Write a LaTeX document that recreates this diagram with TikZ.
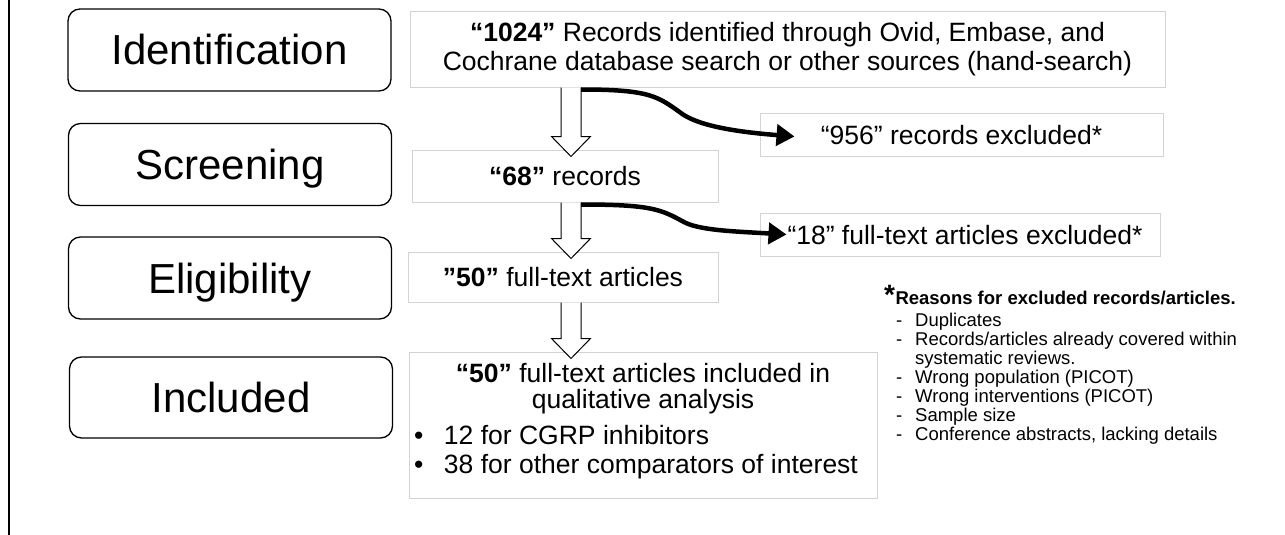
\documentclass[tikz,border=0pt]{standalone}
\usepackage{fontspec}
\setmainfont{Liberation Sans}
\usetikzlibrary{calc,arrows.meta}
\definecolor{boxgray}{HTML}{D3D3D3}

\begin{document}
\begin{tikzpicture}[x=1pt,y=-1pt,
  stage/.style={draw=black, line width=1.3pt, rounded corners=12pt,
    minimum width=323pt, minimum height=82pt, inner sep=0pt,
    text height=30pt, text depth=0pt, font=\fontsize{42}{46}\selectfont},
  tbox/.style={draw=boxgray, line width=1pt, inner sep=0pt, align=center,
    font=\fontsize{26.5}{29}\selectfont},
  oneline/.style={text height=19pt, text depth=0pt},
  hollow/.style={draw=black, line width=1pt, fill=white, line join=miter},
  exclarrow/.style={line width=4.5pt, -{Triangle[length=18pt,width=21pt]}},
  note/.style={inner sep=0pt, anchor=base west, font=\fontsize{18.5}{18.67}\selectfont}
  ]
  \fill[white] (0,0) rectangle (1285,535);
  \useasboundingbox (0,0) rectangle (1285,535);

  % left rule
  \draw[line width=2.5pt] (9,0) -- (9,535);

  % stage labels
  \node[stage] (id)  at (229.5,50)  {Identification};
  \node[stage] (scr) at (230,164.5) {Screening};
  \node[stage] (eli) at (230,278)   {Eligibility};
  \node[stage, minimum height=81pt] (inl) at (231,397.5) {Included};

  % flow boxes
  \node[tbox, minimum width=755pt, minimum height=75pt] (b1) at (787.5,49.5)
    {\textbf{“1024”} Records identified through Ovid, Embase, and\\Cochrane database search or other sources (hand-search)};
  \node[tbox, oneline, minimum width=306pt, minimum height=52pt] (b68) at (565,176) {\textbf{“68”} records};
  \node[tbox, oneline, minimum width=310pt, minimum height=50pt] (b50) at (563,277) {\textbf{”50”} full-text articles};
  \node[tbox, oneline, minimum width=403pt, minimum height=43pt] (b956) at (961.5,134.5) {“956” records excluded*};
  \node[tbox, oneline, minimum width=400pt, minimum height=43pt] (b18) at (960,234.5) {\hspace{10pt}“18” full-text articles excluded*};
  \node[tbox, minimum width=468pt, minimum height=146pt] (inc) at (643,425) {};
  \node[inner sep=0pt, anchor=base] (inctext) at (643,382) {%
    \begin{minipage}[t]{460pt}\fontsize{26.5}{26}\selectfont
      \centering\textbf{“50”} full-text articles included in\\ qualitative analysis\par
      \vspace{7pt}\raggedright\fontsize{26.5}{29}\selectfont
      \makebox[31pt][l]{\hspace{1pt}•}12 for CGRP inhibitors\\
      \makebox[31pt][l]{\hspace{1pt}•}38 for other comparators of interest\par
    \end{minipage}};

  % hollow down arrows
  \coordinate (ax) at (571,0);
  \foreach \a/\b in {b1/b68, b68/b50, b50/inc}{
    \draw[hollow] ($(ax|-\a.south)+(-10,0)$) -- ($(ax|-\b.north)+(-10,-13)$) -- ++(-9.5,0)
      -- ($(ax|-\b.north)+(0,7)$) -- ($(ax|-\b.north)+(19.5,-13)$) -- ++(-9.5,0)
      -- ($(ax|-\a.south)+(10,0)$);
  }

  % exclusion arrows
  \coordinate (s1) at ($(ax|-b1.south)+(10,2)$);
  \draw[exclarrow] (s1) .. controls +(70,0) and +(-25,-18) .. ($(s1)+(102,25)$)
    .. controls +(20,13) and +(-50,-4) .. ($(b956.west)+(35,2)$);
  \coordinate (s2) at ($(ax|-b68.south)+(10,2)$);
  \draw[exclarrow] (s2) .. controls +(70,0) and +(-22,-12) .. ($(s2)+(102,17)$)
    .. controls +(15,9) and +(-50,-3) .. ($(b18.west)+(27,0)$);

  % reasons for exclusion
  \node[note] (rstar) at (884,304) {\fontsize{28}{28}\selectfont\bfseries *};
  \node[note] (rhead) at (rstar.base east)
    {\textbf{Reasons for excluded records/articles.}};
  \node[note] (rlist) at (896,326) {%
    \begin{tabular}[t]{@{}l@{}l@{}}
      \makebox[19pt][l]{-} & Duplicates\\
      \makebox[19pt][l]{-} & Records/articles already covered within\\
                           & systematic reviews.\\
      \makebox[19pt][l]{-} & Wrong population (PICOT)\\
      \makebox[19pt][l]{-} & Wrong interventions (PICOT)\\
      \makebox[19pt][l]{-} & Sample size\\
      \makebox[19pt][l]{-} & Conference abstracts, lacking details
    \end{tabular}};
\end{tikzpicture}
\end{document}
